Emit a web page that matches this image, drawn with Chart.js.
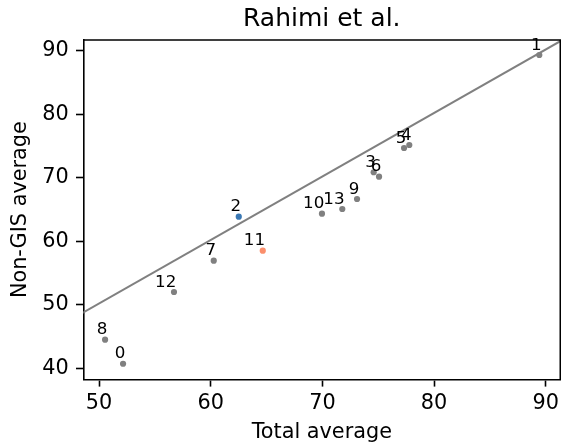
<!DOCTYPE html>
<html>
<head>
<meta charset="utf-8">
<script src="https://cdn.jsdelivr.net/npm/chart.js@4/dist/chart.umd.min.js"></script>
<style>
  html, body { margin: 0; padding: 0; background: #fff; }
</style>
</head>
<body>
<canvas id="grafico" width="561" height="447"></canvas>
<script>
// values
const pointLabels = ['0', '1', '2', '3', '4', '5', '6', '7', '8', '9', '10', '11', '12', '13'];
const totalAvg = [52.15, 89.42, 62.51, 74.59, 77.78, 77.31, 75.07, 60.27, 50.54, 73.10, 69.96, 64.66, 56.71, 71.78];
const nonGisAvg = [40.72, 89.32, 63.87, 70.86, 75.15, 74.68, 70.16, 56.94, 44.50, 66.65, 64.34, 58.51, 52.01, 65.08];
const pointColors = ['#808080', '#808080', '#3a78b4', '#808080', '#808080', '#808080', '#808080',
                     '#808080', '#808080', '#808080', '#808080', '#fb8f6c', '#808080', '#808080'];
const fitX = [40, 100];
const fitY = [40.2, 100.2];
const xTicks = [50, 60, 70, 80, 90];
const yTicks = [40, 50, 60, 70, 80, 90];
const titulo = 'Rahimi et al.';

const fonte = 'DejaVu Sans';
const tamTick = 20.8;

// título centrado no eixo, rótulos dos pontos e moldura completa
const rotulosPlugin = {
    id: 'rotulos',
    afterDatasetsDraw(chart) {
        const c = chart.ctx;
        const sx = chart.scales.x, sy = chart.scales.y;
        const a = chart.chartArea;
        c.save();
        c.fillStyle = '#000';

        c.font = '25px "' + fonte + '"';
        c.textAlign = 'center';
        c.textBaseline = 'middle';
        c.fillText(titulo, (a.left + a.right) / 2, 19.65);

        c.font = '16.7px "' + fonte + '"';
        c.textAlign = 'right';
        c.textBaseline = 'alphabetic';
        pointLabels.forEach((lab, i) => {
            const px = sx.getPixelForValue(totalAvg[i]);
            const py = sy.getPixelForValue(nonGisAvg[i]);
            c.fillText(lab, px + 2.3, py - 5.3);
        });

        c.strokeStyle = '#000';
        c.lineWidth = 1.6;
        c.beginPath();
        c.moveTo(a.left, a.top);
        c.lineTo(a.right, a.top);
        c.lineTo(a.right, a.bottom);
        c.stroke();
        c.restore();
    }
};

function semPadding(s) {
    s.paddingLeft = 0; s.paddingRight = 0; s.paddingTop = 0; s.paddingBottom = 0;
}

new Chart(document.getElementById('grafico'), {
    data: {
        datasets: [{
            type: 'line',
            data: fitX.map((x, i) => ({ x: x, y: fitY[i] })),
            borderColor: '#808080',
            borderWidth: 2,
            pointRadius: 0,
            fill: false
        }, {
            type: 'scatter',
            data: totalAvg.map((x, i) => ({ x: x, y: nonGisAvg[i] })),
            backgroundColor: pointColors,
            borderWidth: 0,
            pointRadius: 3.1
        }]
    },
    options: {
        responsive: false,
        animation: false,
        layout: { autoPadding: false, padding: { top: 40, right: 0.7, left: 0, bottom: 0 } },
        plugins: {
            legend: { display: false },
            tooltip: { enabled: false },
            title: { display: false }
        },
        scales: {
            x: {
                type: 'linear',
                min: 48.59,
                max: 91.30,
                afterBuildTicks: s => { s.ticks = xTicks.map(v => ({ value: v })); },
                afterFit: s => { s.height = 67.7; semPadding(s); },
                grid: { drawOnChartArea: false, drawTicks: true, tickLength: 7.3, tickColor: '#000', tickWidth: 1.6 },
                border: { display: true, color: '#000', width: 1.6 },
                ticks: { color: '#000', font: { family: fonte, size: tamTick }, padding: 4.3, maxRotation: 0 },
                title: {
                    display: true, text: 'Total average', color: '#000',
                    font: { family: fonte, size: tamTick }, padding: { top: 0, bottom: 2.4 }
                }
            },
            y: {
                type: 'linear',
                min: 38.27,
                max: 91.68,
                afterBuildTicks: s => { s.ticks = yTicks.map(v => ({ value: v })); },
                afterFit: s => { s.width = 83.3; semPadding(s); },
                grid: { drawOnChartArea: false, drawTicks: true, tickLength: 7.3, tickColor: '#000', tickWidth: 1.6 },
                border: { display: true, color: '#000', width: 1.6 },
                ticks: { color: '#000', font: { family: fonte, size: tamTick }, padding: 7.3 },
                title: {
                    display: true, text: 'Non-GIS average', color: '#000',
                    font: { family: fonte, size: tamTick }, padding: { top: 8.6, bottom: 0 }
                }
            }
        }
    },
    plugins: [rotulosPlugin]
});
</script>
</body>
</html>
